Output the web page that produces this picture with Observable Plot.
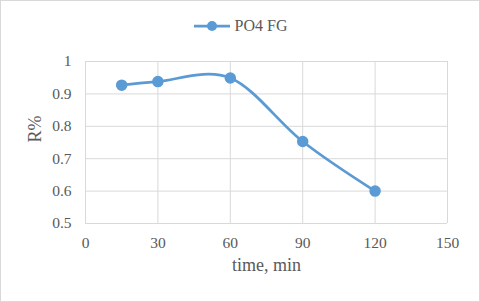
<!DOCTYPE html>
<html>
<head>
<meta charset="utf-8">
<script src="https://cdn.jsdelivr.net/npm/d3@7"></script>
<script src="https://cdn.jsdelivr.net/npm/@observablehq/plot@0.6"></script>
<style>
  html, body { margin: 0; padding: 0; background: #fff; }
  #wrap { position: relative; width: 480px; height: 302px; box-sizing: border-box; font-family: 'Liberation Serif', serif; }
  #wrap svg.chart { position: absolute; left: 0; top: 0; }
  #border { position: absolute; left: 0; top: 0; width: 478px; height: 300px; border: 1px solid #d9d9d9; pointer-events: none; }
  #legend { position: absolute; top: 17px; left: 0; width: 480px; display: flex; justify-content: center; align-items: center;
            font-family: 'Liberation Serif', serif; font-size: 16px; color: #595959; }
  #legend svg { margin-right: 4px; }
</style>
</head>
<body>
<div id="wrap">
  <div id="legend"></div>
  <div id="border"></div>
</div>
<script>
const times = [15, 30, 60, 90, 120];
const rValues = [0.927, 0.938, 0.949, 0.753, 0.600];
const seriesName = "PO4 FG";
const xTicks = [0, 30, 60, 90, 120, 150];
const yTicks = [0.5, 0.6, 0.7, 0.8, 0.9, 1];

const data = times.map((t, i) => ({t, r: rValues[i]}));
const blue = "#5b9bd5";
const gray = "#d9d9d9";
const textGray = "#595959";
const serif = "Liberation Serif";

const chart = Plot.plot({
  width: 480,
  height: 302,
  marginLeft: 85,
  marginRight: 33,
  marginTop: 61,
  marginBottom: 79,
  style: {fontFamily: serif, fontSize: "15.5px", color: textGray, background: "transparent"},
  x: {domain: [0, 150], ticks: xTicks, label: null},
  y: {domain: [0.5, 1], ticks: yTicks, label: null},
  marks: [
    Plot.gridX(xTicks, {stroke: gray, strokeOpacity: 1, strokeWidth: 1}),
    Plot.gridY(yTicks, {stroke: gray, strokeOpacity: 1, strokeWidth: 1}),
    Plot.axisX(xTicks, {tickSize: 0, tickPadding: 13, fontSize: 15.5, fill: textGray, fontFamily: serif}),
    Plot.axisY(yTicks, {tickSize: 0, tickPadding: 14, fontSize: 15.5, fill: textGray, fontFamily: serif, tickFormat: d => String(d)}),
    Plot.text(["time, min"], {frameAnchor: "bottom", dy: 47, fontSize: 18, fill: textGray, fontFamily: serif}),
    Plot.text(["R%"], {frameAnchor: "left", dx: -50, rotate: -90, fontSize: 18, fill: textGray, fontFamily: serif}),
    Plot.line(data, {x: "t", y: "r", stroke: blue, strokeWidth: 2.75, curve: "cardinal", tension: 0}),
    Plot.dot(data, {x: "t", y: "r", r: 5, fill: blue, stroke: blue})
  ]
});
chart.classList.add("chart");
document.getElementById("wrap").prepend(chart);

const legend = document.getElementById("legend");
legend.innerHTML = `<svg width="38" height="12"><line x1="1" y1="6" x2="37" y2="6" stroke="${blue}" stroke-width="2.75"/><circle cx="19" cy="6" r="5" fill="${blue}"/></svg><span>${seriesName}</span>`;
</script>
</body>
</html>
